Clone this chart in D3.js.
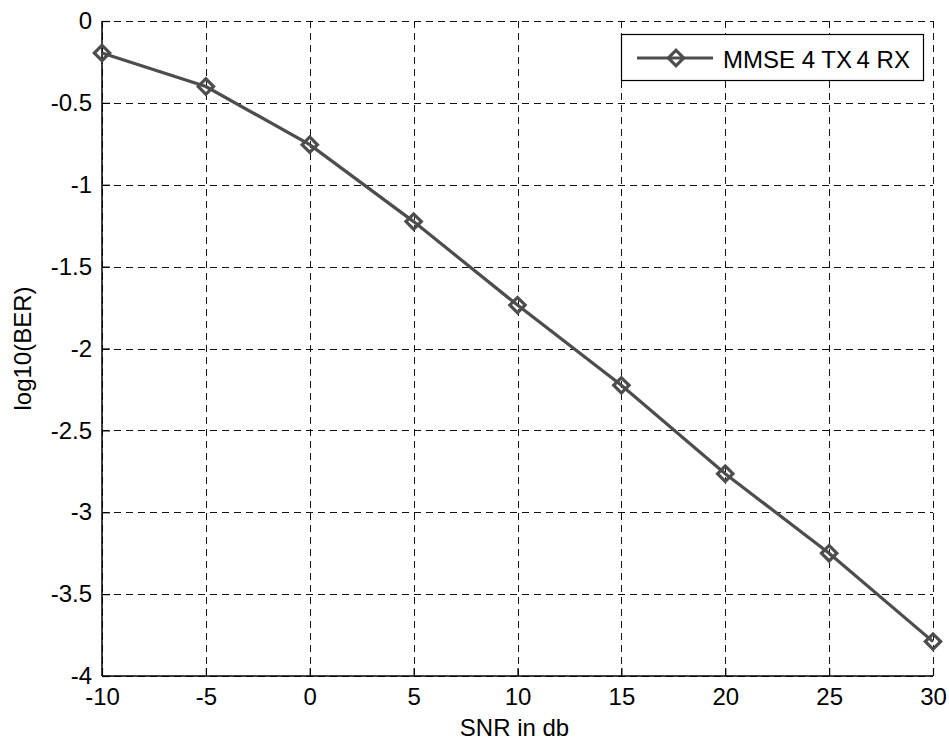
<!DOCTYPE html>
<html><head><meta charset="utf-8">
<script src="https://d3js.org/d3.v7.min.js"></script>
<style>body{margin:0;background:#fff}svg{display:block}text{font-family:"Liberation Sans",Arial,sans-serif}</style>
</head><body>
<script>
const snr = [-10, -5, 0, 5, 10, 15, 20, 25, 30];
const logBer = [-0.195, -0.40, -0.755, -1.225, -1.735, -2.225, -2.765, -3.25, -3.79];
const xTicks = [-10, -5, 0, 5, 10, 15, 20, 25, 30];
const yTicks = [0, -0.5, -1, -1.5, -2, -2.5, -3, -3.5, -4];
const seriesName = "MMSE 4 TX 4 RX";

const W = 949, H = 740;
const L = 102, R = 933, T = 21, B = 676;
const FS = 24;
const svg = d3.select("body").append("svg").attr("width", W).attr("height", H);
const x = d3.scaleLinear().domain([-10, 30]).range([L, R]);
const y = d3.scaleLinear().domain([-4, 0]).range([B, T]);

// grid
const g = svg.append("g");
g.selectAll(".vg").data(xTicks).enter().append("line")
  .attr("x1", d => Math.round(x(d)) + 0.5).attr("x2", d => Math.round(x(d)) + 0.5).attr("y1", T).attr("y2", B)
  .attr("stroke", "#111").attr("stroke-width", 1).attr("stroke-dasharray", "7,5");
g.selectAll(".hg").data(yTicks).enter().append("line")
  .attr("y1", d => Math.round(y(d)) + 0.5).attr("y2", d => Math.round(y(d)) + 0.5).attr("x1", L).attr("x2", R)
  .attr("stroke", "#111").attr("stroke-width", 1).attr("stroke-dasharray", "7,5");

// axes
const xAxis = d3.axisBottom(x).tickValues(xTicks).tickSize(-8).tickPadding(12).tickFormat(d => String(d));
const yAxis = d3.axisLeft(y).tickValues(yTicks).tickSize(-8).tickPadding(10).tickFormat(d => String(d));
const xa = svg.append("g").attr("transform", `translate(0,${B})`).call(xAxis);
const ya = svg.append("g").attr("transform", `translate(${L},0)`).call(yAxis);
[xa, ya].forEach(a => {
  a.attr("font-size", FS).attr("font-family", '"Liberation Sans",Arial,sans-serif');
  a.select(".domain").attr("stroke", "#000").attr("stroke-width", 1.5);
  a.selectAll(".tick line").attr("stroke", "#000").attr("stroke-width", 1.2);
  a.selectAll("text").attr("fill", "#000");
});
xa.select(".domain").attr("d", `M${L},0H${R}`);
ya.select(".domain").attr("d", `M0,${T}V${B}`);

// labels
svg.append("text").attr("x", 514.5).attr("y", 736).attr("text-anchor", "middle")
  .attr("font-size", FS).text("SNR in db");
svg.append("text").attr("transform", `translate(31,${(T + B) / 2}) rotate(-90)`).attr("text-anchor", "middle")
  .attr("font-size", FS).text("log10(BER)");

// line
const col = "#4d4d4d";
const pts = snr.map((s, i) => [s, logBer[i]]);
svg.append("path").datum(pts).attr("fill", "none").attr("stroke", col).attr("stroke-width", 3.2)
  .attr("d", d3.line().x(d => x(d[0])).y(d => y(d[1])));
const mk = d3.symbol().type(d3.symbolSquare).size(118)();
svg.selectAll(".mk").data(pts).enter().append("path")
  .attr("transform", d => `translate(${x(d[0])},${y(d[1])}) rotate(45)`)
  .attr("d", mk)
  .attr("fill", "none").attr("stroke", col).attr("stroke-width", 3.2);

// legend
const lg = svg.append("g");
lg.append("rect").attr("x", 621.5).attr("y", 34.5).attr("width", 302).attr("height", 46)
  .attr("fill", "#fff").attr("stroke", "#000").attr("stroke-width", 1.2);
lg.append("line").attr("x1", 637).attr("x2", 713).attr("y1", 58).attr("y2", 58)
  .attr("stroke", col).attr("stroke-width", 3.2);
lg.append("path").attr("transform", "translate(676,58) rotate(45)")
  .attr("d", mk)
  .attr("fill", "none").attr("stroke", col).attr("stroke-width", 3.2);
const parts = seriesName.split(" TX ");
const lt = lg.append("text").attr("x", 723).attr("y", 68).attr("font-size", FS);
lt.append("tspan").text(parts[0] + " TX");
lt.append("tspan").attr("dx", -2).text(" " + parts[1]);
</script>
</body></html>
